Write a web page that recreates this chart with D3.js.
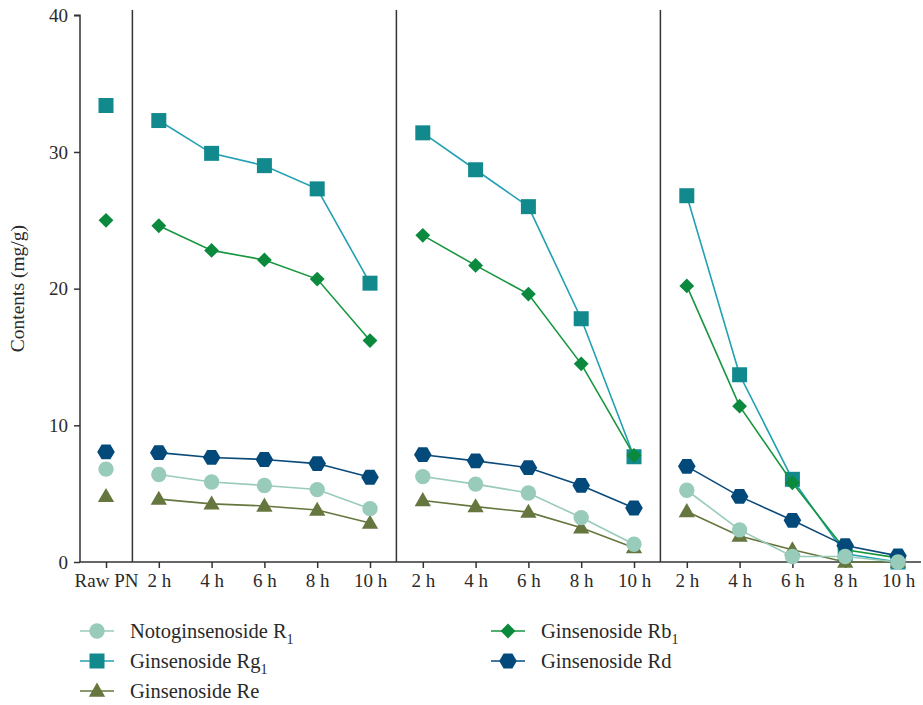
<!DOCTYPE html>
<html>
<head>
<meta charset="utf-8">
<script src="https://cdn.jsdelivr.net/npm/d3@7"></script>
<style>
  body { margin: 0; background: #fff; }
  svg text { font-family: 'Liberation Serif', 'DejaVu Serif', serif; fill: #2a2a2a; }
</style>
</head>
<body>
<div id="chart"></div>
<script>
const categories = ['Raw PN', '2 h', '4 h', '6 h', '8 h', '10 h', '2 h', '4 h', '6 h', '8 h', '10 h', '2 h', '4 h', '6 h', '8 h', '10 h']
const yTicks = [0, 10, 20, 30, 40]

const notoR1 = [6.8, 6.4, 5.85, 5.6, 5.3, 3.9, 6.25, 5.7, 5.05, 3.25, 1.3, 5.25, 2.35, 0.4, 0.4, 0.0]
const rg1 = [33.4, 32.3, 29.9, 29.0, 27.3, 20.4, 31.4, 28.7, 26.0, 17.8, 7.7, 26.8, 13.7, 6.05, 0.6, 0.0]
const re = [4.8, 4.6, 4.25, 4.1, 3.8, 2.85, 4.5, 4.05, 3.65, 2.5, 1.05, 3.7, 1.9, 0.9, 0.0, 0.0]
const rb1 = [25.0, 24.6, 22.8, 22.1, 20.7, 16.2, 23.9, 21.7, 19.6, 14.5, 7.8, 20.2, 11.4, 5.8, 0.9, 0.3]
const rd = [8.05, 8.0, 7.65, 7.5, 7.2, 6.2, 7.85, 7.4, 6.9, 5.6, 3.95, 7.0, 4.8, 3.05, 1.2, 0.45]

// connected runs of points (raw sample stands alone)
const groups = [[1, 5], [6, 10], [11, 15]]

const series = [
  { name: 'Ginsenoside Rg', sub: '1', values: rg1, fill: '#128a8d', stroke: '#22a0b3', shape: 'square' },
  { name: 'Ginsenoside Rb', sub: '1', values: rb1, fill: '#0b8a3d', stroke: '#17963f', shape: 'diamond' },
  { name: 'Ginsenoside Re', sub: null, values: re, fill: '#66763f', stroke: '#66763f', shape: 'triangle' },
  { name: 'Ginsenoside Rd', sub: null, values: rd, fill: '#034a7a', stroke: '#0a4a7a', shape: 'hexagon' },
  { name: 'Notoginsenoside R', sub: '1', values: notoR1, fill: '#98cbb9', stroke: '#98cbb9', shape: 'circle' }
]

const width = 923
const height = 705

const svg = d3.select('#chart')
  .append('svg')
  .attr('width', width)
  .attr('height', height)

const x = d3.scaleLinear().domain([0, categories.length - 1]).range([106, 898])
const y = d3.scaleLinear().domain([0, 40]).range([562, 15.3])

function shapePath(shape) {
  if (shape === 'hexagon') {
    const r = 8.8
    const pts = d3.range(6).map(k => {
      const a = Math.PI / 3 * k
      return [r * Math.cos(a), r * Math.sin(a) * 0.97]
    })
    return 'M' + pts.map(p => p.join(',')).join('L') + 'Z'
  }
  const sym = {
    square: [d3.symbolSquare, 225],
    diamond: [d3.symbolSquare, 110],
    triangle: [d3.symbolTriangle, 115],
    circle: [d3.symbolCircle, 185]
  }[shape]
  return d3.symbol().type(sym[0]).size(sym[1])()
}

function markerTransform(shape, px, py) {
  if (shape === 'diamond') return `translate(${px},${py}) rotate(45)`
  if (shape === 'triangle') return `translate(${px},${py + 1})`
  return `translate(${px},${py})`
}

// axes
const yAxis = d3.axisLeft(y).tickValues(yTicks).tickSize(6).tickPadding(6)
const gy = svg.append('g').attr('transform', 'translate(80,0)').call(yAxis)
gy.select('.domain').attr('d', `M-6,${y(40)}H0V${y(0)}`)

const xAxis = d3.axisBottom(x)
  .tickValues(d3.range(categories.length))
  .tickFormat(i => categories[i])
  .tickSize(6)
  .tickPadding(6)
const gx = svg.append('g').attr('transform', `translate(0,${y(0)})`).call(xAxis)
gx.select('.domain').attr('d', 'M80,0H921')

svg.selectAll('.domain, .tick line').attr('stroke', '#333').attr('stroke-width', 1.5)
svg.selectAll('.tick text').attr('font-size', 19).style('font-family', "'Liberation Serif', serif").attr('fill', '#2a2a2a')

// group dividers
svg.append('g')
  .selectAll('line')
  .data([0.5, 5.5, 10.5])
  .join('line')
  .attr('x1', d => x(d))
  .attr('x2', d => x(d))
  .attr('y1', 10)
  .attr('y2', y(0))
  .attr('stroke', '#333')
  .attr('stroke-width', 1.5)

svg.append('text')
  .attr('transform', `translate(24,${y(20)}) rotate(-90)`)
  .attr('text-anchor', 'middle')
  .attr('font-size', 19.5)
  .text('Contents (mg/g)')

const line = d3.line().x(d => x(d[0])).y(d => y(d[1]))

series.forEach(s => {
  const g = svg.append('g')
  groups.forEach(([a, b]) => {
    const pts = d3.range(a, b + 1).map(i => [i, s.values[i]])
    g.append('path')
      .attr('d', line(pts))
      .attr('fill', 'none')
      .attr('stroke', s.stroke)
      .attr('stroke-width', 1.6)
  })
  g.selectAll('path.mark')
    .data(s.values)
    .join('path')
    .attr('class', 'mark')
    .attr('d', shapePath(s.shape))
    .attr('transform', (d, i) => markerTransform(s.shape, x(i), y(d)))
    .attr('fill', s.fill)
})

// legend
const legendItems = [
  { s: series[4], lx: 97, ly: 631 },
  { s: series[0], lx: 97, ly: 661 },
  { s: series[2], lx: 97, ly: 691 },
  { s: series[1], lx: 508, ly: 631 },
  { s: series[3], lx: 508, ly: 661 }
]

const legend = svg.append('g')
legendItems.forEach(({ s, lx, ly }) => {
  const g = legend.append('g')
  g.append('line')
    .attr('x1', lx - 17).attr('x2', lx + 17)
    .attr('y1', ly).attr('y2', ly)
    .attr('stroke', s.stroke)
    .attr('stroke-width', 1.6)
  g.append('path')
    .attr('d', shapePath(s.shape))
    .attr('transform', markerTransform(s.shape, lx, ly))
    .attr('fill', s.fill)
  const t = g.append('text')
    .attr('x', lx + 33)
    .attr('y', ly + 7)
    .attr('font-size', 20.5)
    .text(s.name)
  if (s.sub) {
    t.append('tspan')
      .attr('dy', 6)
      .attr('font-size', 14)
      .text(s.sub)
  }
})
</script>
</body>
</html>
